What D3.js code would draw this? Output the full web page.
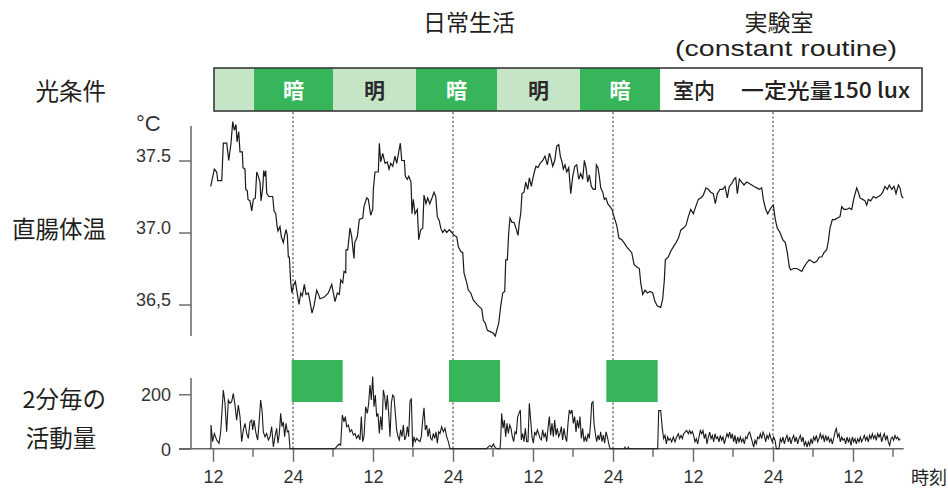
<!DOCTYPE html>
<html><head><meta charset="utf-8">
<script src="https://cdn.jsdelivr.net/npm/d3@7"></script>
<style>body{margin:0;background:#fff} svg{display:block}</style>
</head><body>
<svg id="c" width="948" height="488"></svg>
<script>
// ---------- DATA ----------
const xTickHours = [12,24,36,48,60,72,84,96,108];
const xTickLabels = ["12","24","12","24","12","24","12","24","12"];
const xMinorHours = [18,30,42,54,66,78,90,102,114];
const tempTicks = [36.5,37.0,37.5];
const tempTickLabels = ["36,5","37.0","37.5"];
const actTicks = [0,200];
const actTickLabels = ["0","200"];
const lightEdges = [12.15,18.15,30.0,42.45,54.6,67.05,79.05,118.35];
const lightStates = ["light","dark","light","dark","light","dark","room"];
const lightLabels = ["","暗","明","暗","明","暗",""];
const roomLabels = ["室内","一定光量150 lux"];
const sleepStart = [23.8,47.4,71.0];
const sleepEnd = [31.45,55.05,78.7];
const midnightHours = [24,48,72,96];
const axisEndHour = 115.6;

// rectal temperature [hour, °C]
const tempSeries = [[11.66,37.32],[12.20,37.44],[12.56,37.42],[12.71,37.36],[13.31,37.36],[13.55,37.62],[14.06,37.62],[14.36,37.50],[14.70,37.62],[14.96,37.77],[15.20,37.71],[15.45,37.75],[15.60,37.63],[15.86,37.70],[16.05,37.56],[16.40,37.56],[16.50,37.45],[16.80,37.44],[16.91,37.30],[17.15,37.29],[17.25,37.23],[17.55,37.22],[17.81,37.15],[18.05,37.23],[18.35,37.24],[18.56,37.42],[18.80,37.39],[19.05,37.35],[19.20,37.22],[19.46,37.31],[19.61,37.43],[19.76,37.39],[19.91,37.43],[20.06,37.27],[20.36,37.25],[20.96,37.25],[21.15,37.15],[21.41,37.13],[21.60,37.05],[21.75,37.01],[22.05,37.04],[22.25,36.97],[22.55,36.93],[22.76,36.98],[22.95,37.02],[23.15,36.98],[23.30,36.83],[23.45,36.83],[23.66,36.65],[23.85,36.58],[24.05,36.63],[24.35,36.66],[24.56,36.60],[24.90,36.50],[25.16,36.58],[25.40,36.56],[25.70,36.64],[25.95,36.57],[26.30,36.58],[26.55,36.52],[26.85,36.44],[27.15,36.49],[27.56,36.60],[27.90,36.56],[28.05,36.54],[28.65,36.55],[29.30,36.58],[29.81,36.64],[30.30,36.52],[30.65,36.58],[30.95,36.57],[31.16,36.67],[31.46,36.65],[31.65,36.73],[31.91,36.72],[31.95,36.88],[32.21,36.88],[32.55,37.03],[32.81,36.97],[32.96,36.90],[33.15,36.82],[33.26,36.93],[33.65,36.97],[33.95,37.09],[34.46,37.10],[34.65,37.18],[35.06,37.24],[35.30,37.23],[35.66,37.12],[35.96,37.16],[36.05,37.30],[36.30,37.42],[36.80,37.42],[36.95,37.62],[37.16,37.49],[37.46,37.55],[37.80,37.48],[38.15,37.49],[38.40,37.44],[38.66,37.48],[38.96,37.46],[39.30,37.53],[39.56,37.48],[39.90,37.57],[40.10,37.62],[40.31,37.50],[40.70,37.50],[40.85,37.39],[41.15,37.37],[41.36,37.39],[41.70,37.35],[41.85,37.13],[42.05,37.23],[42.30,37.13],[42.65,37.16],[42.86,36.95],[43.16,37.02],[43.46,37.03],[43.65,37.26],[43.95,37.20],[44.21,37.24],[44.51,37.20],[44.85,37.24],[45.15,37.28],[45.41,37.25],[45.65,37.11],[45.95,37.08],[46.16,37.03],[46.46,37.00],[46.76,37.02],[47.06,37.00],[47.45,37.02],[47.81,37.00],[48.15,36.98],[48.56,36.97],[48.80,36.90],[49.16,36.87],[49.46,36.86],[49.65,36.72],[50.06,36.65],[50.30,36.60],[50.66,36.58],[51.05,36.53],[51.45,36.51],[51.80,36.49],[52.31,36.47],[52.55,36.39],[52.85,36.37],[53.15,36.32],[53.66,36.31],[54.05,36.30],[54.35,36.28],[54.56,36.32],[54.86,36.37],[55.16,36.49],[55.46,36.58],[55.76,36.59],[55.91,36.81],[56.15,36.81],[56.36,37.00],[56.55,37.10],[56.85,37.07],[57.15,37.07],[57.45,37.03],[57.75,36.98],[57.95,37.07],[58.16,37.13],[58.35,37.27],[58.65,37.28],[58.91,37.35],[59.21,37.30],[59.45,37.38],[59.75,37.32],[59.96,37.37],[60.20,37.42],[60.45,37.46],[60.75,37.45],[61.05,37.48],[61.46,37.50],[61.80,37.53],[62.15,37.47],[62.45,37.55],[62.66,37.52],[62.96,37.46],[63.26,37.50],[63.56,37.60],[63.86,37.61],[64.10,37.53],[64.35,37.49],[64.55,37.44],[64.80,37.47],[65.06,37.42],[65.36,37.45],[65.66,37.27],[65.96,37.39],[66.26,37.46],[66.56,37.47],[66.86,37.37],[67.16,37.41],[67.46,37.37],[67.70,37.50],[67.95,37.45],[68.21,37.35],[68.45,37.40],[68.75,37.32],[69.05,37.30],[69.35,37.30],[69.50,37.47],[69.75,37.45],[69.95,37.39],[70.16,37.31],[70.46,37.28],[70.70,37.23],[70.95,37.24],[71.21,37.20],[71.55,37.18],[71.85,37.16],[72.15,37.11],[72.56,37.05],[72.90,36.96],[73.31,36.95],[73.65,36.93],[74.06,36.90],[74.45,36.88],[74.81,36.86],[75.15,36.78],[75.56,36.76],[75.95,36.75],[76.16,36.65],[76.46,36.57],[76.80,36.60],[77.15,36.58],[77.55,36.59],[77.96,36.58],[78.30,36.52],[78.65,36.49],[79.16,36.48],[79.46,36.54],[79.70,36.67],[79.85,36.81],[80.30,36.83],[80.66,36.87],[81.05,36.90],[81.45,36.93],[81.80,36.96],[82.20,37.02],[82.55,37.03],[82.95,37.05],[83.30,37.11],[83.66,37.16],[84.05,37.13],[84.41,37.18],[84.80,37.23],[85.16,37.24],[85.55,37.26],[85.95,37.31],[86.30,37.30],[86.66,37.28],[87.05,37.27],[87.35,37.20],[87.65,37.27],[88.05,37.30],[88.46,37.30],[88.80,37.32],[89.15,37.24],[89.45,37.32],[89.81,37.34],[90.15,37.37],[90.41,37.38],[90.65,37.27],[90.95,37.37],[91.31,37.35],[91.65,37.33],[92.06,37.35],[92.45,37.34],[92.81,37.33],[93.15,37.32],[93.56,37.31],[93.95,37.30],[94.31,37.31],[94.55,37.23],[94.91,37.16],[95.21,37.13],[95.55,37.16],[95.81,37.18],[96.05,37.19],[96.35,37.09],[96.65,37.03],[97.05,37.00],[97.46,36.95],[97.85,36.93],[98.15,36.86],[98.45,36.76],[98.66,36.74],[99.05,36.75],[99.56,36.75],[99.95,36.74],[100.31,36.73],[100.65,36.76],[101.06,36.79],[101.45,36.81],[101.81,36.80],[102.15,36.79],[102.56,36.80],[102.95,36.83],[103.31,36.83],[103.65,36.86],[104.06,36.88],[104.30,36.94],[104.55,37.03],[104.90,37.09],[105.30,37.09],[105.65,37.10],[106.05,37.11],[106.31,37.18],[106.65,37.16],[107.06,37.16],[107.45,37.17],[107.81,37.16],[108.15,37.24],[108.56,37.31],[108.80,37.28],[109.05,37.24],[109.46,37.23],[109.80,37.22],[110.06,37.19],[110.30,37.23],[110.66,37.22],[111.05,37.25],[111.45,37.24],[111.80,37.25],[112.16,37.26],[112.46,37.28],[112.80,37.32],[113.15,37.30],[113.45,37.33],[113.81,37.30],[114.15,37.32],[114.45,37.27],[114.80,37.33],[115.05,37.31],[115.31,37.25],[115.55,37.24]];

// activity counts per 2 min [hour, count]
const activitySeries = [[11.69,0],[11.70,87],[11.95,26],[12.20,56],[12.55,32],[12.90,20],[13.15,62],[13.55,216],[13.80,167],[14.05,62],[14.30,179],[14.55,167],[14.80,173],[15.05,203],[15.30,160],[15.55,105],[15.80,160],[16.05,118],[16.30,26],[16.55,69],[16.80,93],[17.05,56],[17.30,38],[17.55,99],[17.80,105],[17.95,69],[18.15,105],[18.45,56],[18.70,32],[18.90,93],[19.15,179],[19.35,142],[19.55,62],[19.80,44],[20.05,56],[20.30,32],[20.55,44],[20.80,81],[21.05,7],[21.30,44],[21.55,75],[21.75,20],[21.95,56],[22.15,130],[22.35,81],[22.55,99],[22.75,44],[22.95,93],[23.15,62],[23.35,65],[23.55,0],
[30.30,0],[30.65,10],[30.95,17],[31.15,13],[31.40,124],[31.65,99],[31.85,118],[32.05,81],[32.30,87],[32.55,62],[32.80,69],[33.05,50],[33.30,56],[33.55,38],[33.80,50],[34.05,32],[34.25,118],[34.45,26],[34.65,44],[34.90,154],[35.15,130],[35.35,167],[35.55,234],[35.75,179],[35.95,265],[36.15,154],[36.35,197],[36.55,118],[36.75,130],[36.95,56],[37.15,118],[37.35,69],[37.55,216],[37.75,191],[37.95,142],[38.15,197],[38.35,130],[38.55,44],[38.75,167],[38.95,197],[39.15,191],[39.35,130],[39.55,69],[39.75,44],[39.95,32],[40.15,69],[40.35,44],[40.55,87],[40.75,32],[40.95,44],[41.15,81],[41.35,44],[41.55,173],[41.75,185],[41.95,5],[42.15,44],[42.35,26],[42.55,38],[42.75,32],[43.05,26],[43.25,44],[43.45,105],[43.65,150],[43.85,69],[44.05,87],[44.25,44],[44.45,75],[44.65,38],[44.85,32],[45.05,56],[45.25,38],[45.45,62],[45.65,20],[45.85,62],[46.05,56],[46.30,81],[46.55,62],[46.80,75],[47.05,44],[47.30,26],[47.55,0],
[53.05,0],[53.30,7],[53.55,12],[53.80,5],[54.05,17],[54.30,5],[54.60,0],[55.05,0],[55.15,32],[55.30,130],[55.50,75],[55.70,105],[55.90,44],[56.10,93],[56.30,56],[56.50,87],[56.70,75],[56.90,44],[57.10,26],[57.30,62],[57.50,56],[57.70,118],[57.90,130],[58.10,142],[58.25,32],[58.45,56],[58.65,26],[58.85,75],[59.05,26],[59.25,26],[59.45,167],[59.65,105],[59.85,44],[60.05,20],[60.25,62],[60.45,50],[60.65,69],[60.85,56],[61.05,38],[61.25,32],[61.45,69],[61.65,44],[61.85,56],[62.05,26],[62.25,75],[62.45,118],[62.65,50],[62.85,93],[63.05,44],[63.25,105],[63.45,50],[63.65,75],[63.85,44],[64.05,56],[64.25,81],[64.45,32],[64.65,75],[64.85,44],[65.05,26],[65.25,93],[65.45,142],[65.65,130],[65.85,142],[66.05,93],[66.25,118],[66.45,62],[66.65,105],[66.85,75],[67.05,118],[67.25,38],[67.45,75],[67.65,26],[67.85,44],[68.05,26],[68.25,56],[68.45,38],[68.65,99],[68.80,167],[69.00,173],[69.15,93],[69.35,56],[69.55,26],[69.75,50],[69.95,32],[70.15,62],[70.35,26],[70.55,50],[70.75,20],[70.95,62],[71.15,44],[71.35,20],[71.55,0],
[73.75,0],[73.80,8],[73.85,0],[74.25,0],[74.30,8],[74.35,0],
[78.70,0],[78.85,140],[79.15,140],[79.40,74],[79.60,37],[79.80,49],[80.00,18],[80.20,43],[80.40,31],[80.60,37],[80.80,25],[81.05,43],[81.30,25],[81.55,43],[81.80,55],[82.00,37],[82.20,49],[82.40,37],[82.60,55],[82.80,61],[83.05,67],[83.30,55],[83.50,67],[83.70,55],[83.90,64],[84.10,49],[84.30,25],[84.50,37],[84.70,18],[84.90,43],[85.10,67],[85.30,55],[85.50,67],[85.70,37],[85.90,55],[86.10,18],[86.30,43],[86.50,61],[86.70,37],[86.90,49],[87.10,25],[87.30,55],[87.50,37],[87.70,43],[87.90,25],[88.10,49],[88.30,31],[88.50,43],[88.70,18],[88.90,37],[89.10,55],[89.30,43],[89.50,61],[89.70,37],[89.90,55],[90.10,25],[90.30,49],[90.50,18],[90.70,43],[90.90,25],[91.10,43],[91.30,25],[91.50,37],[91.70,18],[91.90,43],[92.10,37],[92.30,55],[92.50,61],[92.70,43],[92.90,25],[93.10,6],[93.30,31],[93.50,18],[93.70,43],[93.90,37],[94.10,55],[94.30,37],[94.50,61],[94.70,49],[94.90,25],[95.10,49],[95.30,37],[95.50,55],[95.70,37],[95.90,25],[96.10,43],[96.30,31],[96.50,0],[96.70,0],[96.90,0],[97.10,37],[97.30,25],[97.50,43],[97.70,18],[97.90,37],[98.10,49],[98.30,25],[98.50,43],[98.70,18],[98.90,37],[99.10,49],[99.30,25],[99.50,43],[99.70,18],[99.90,37],[100.10,49],[100.30,25],[100.50,43],[100.70,12],[100.90,25],[101.10,6],[101.30,25],[101.50,12],[101.70,37],[101.90,18],[102.10,43],[102.30,31],[102.50,49],[102.70,25],[102.90,37],[103.10,55],[103.30,37],[103.50,49],[103.70,25],[103.90,49],[104.10,31],[104.30,43],[104.50,25],[104.70,37],[104.90,18],[105.10,37],[105.30,61],[105.50,74],[105.70,43],[105.90,55],[106.10,25],[106.30,43],[106.50,31],[106.70,37],[106.90,18],[107.10,43],[107.30,25],[107.50,37],[107.70,12],[107.90,43],[108.10,25],[108.30,37],[108.50,18],[108.70,37],[108.90,25],[109.10,43],[109.30,25],[109.50,37],[109.70,49],[109.90,31],[110.10,43],[110.30,25],[110.50,49],[110.70,37],[110.90,55],[111.10,37],[111.30,49],[111.50,31],[111.70,55],[111.90,43],[112.10,55],[112.30,25],[112.50,43],[112.70,55],[112.90,31],[113.10,49],[113.30,25],[113.50,12],[113.70,37],[113.90,43],[114.10,31],[114.30,49],[114.50,37],[114.70,43],[114.90,31],[115.10,37]];

// ---------- LAYOUT ----------
const L = {bandTop:68, bandH:43, axisX:191, tickLen:12,
  tempAxisTop:126, tempAxisBottom:336, actAxisTop:378,
  sleepTop:360, sleepBottom:402, actLeft:179};
const jp = "'Noto Sans CJK JP','Noto Sans',sans-serif";
const num = "'Liberation Sans',Arial,sans-serif";
const ink = "#231f20";
const green = "#36b55a", pale = "#c6e5c7";

const svg = d3.select("#c");
const x = d3.scaleLinear().domain([12,108]).range([213,853]);
const yT = d3.scaleLinear().domain([36.5,37.5]).range([304.5,160.5]);
const yA = d3.scaleLinear().domain([0,200]).range([448.7,394.3]);

// ---------- titles ----------
svg.append("text").attr("x",469).attr("y",31).attr("text-anchor","middle")
  .attr("font-family",jp).attr("font-size",23).attr("fill",ink).text("日常生活");
svg.append("text").attr("x",779).attr("y",31).attr("text-anchor","middle")
  .attr("font-family",jp).attr("font-size",23).attr("fill",ink).text("実験室");
svg.append("text").attr("x",786).attr("y",56).attr("text-anchor","middle")
  .attr("font-family",num).attr("font-size",22).attr("fill",ink)
  .attr("textLength",222).attr("lengthAdjust","spacingAndGlyphs").text("(constant routine)");

// ---------- left labels ----------
const leftLabels = [
  {t:"光条件", x:106, y:100, a:"end"},
  {t:"直腸体温", x:106, y:238, a:"end"},
  {t:"2分毎の", x:106, y:408, a:"end"},
  {t:"活動量", x:61, y:447, a:"middle"}];
svg.append("g").selectAll("text").data(leftLabels).join("text")
  .attr("x",d=>d.x).attr("y",d=>d.y).attr("text-anchor",d=>d.a)
  .attr("font-family",jp).attr("font-size",23.5).attr("fill",ink).text(d=>d.t);

// ---------- light band ----------
const fillOf = {light:pale, dark:green, room:"#ffffff"};
const segs = lightStates.map((s,i)=>({s, h0:lightEdges[i], h1:lightEdges[i+1], label:lightLabels[i]}));
const band = svg.append("g");
band.selectAll("rect.seg").data(segs).join("rect").attr("class","seg")
  .attr("x",d=>x(d.h0)).attr("width",d=>x(d.h1)-x(d.h0))
  .attr("y",L.bandTop).attr("height",L.bandH).attr("fill",d=>fillOf[d.s]);
band.append("rect").attr("x",x(lightEdges[0])).attr("y",L.bandTop)
  .attr("width",x(lightEdges[lightEdges.length-1])-x(lightEdges[0])).attr("height",L.bandH)
  .attr("fill","none").attr("stroke","#3a3a3a").attr("stroke-width",1.6);
band.selectAll("text.lab").data(segs.filter(d=>d.label)).join("text").attr("class","lab")
  .attr("x",d=>(x(d.h0)+x(d.h1))/2).attr("y",L.bandTop+L.bandH/2+8)
  .attr("text-anchor","middle").attr("font-family",jp).attr("font-size",21).attr("font-weight",700)
  .attr("fill",d=>d.s==="dark"?"#ffffff":"#2a2a2a").text(d=>d.label);
const room = segs[segs.length-1];
const rc = (x(room.h0)+x(room.h1))/2;
band.append("text").attr("x",rc-118).attr("y",L.bandTop+L.bandH/2+8)
  .attr("font-family",jp).attr("font-size",21).attr("font-weight",500).attr("fill",ink).text(roomLabels[0]);
band.append("text").attr("x",rc-50).attr("y",L.bandTop+L.bandH/2+8)
  .attr("font-family",jp).attr("font-size",21).attr("font-weight",500).attr("fill",ink)
  .attr("textLength",169).attr("lengthAdjust","spacingAndGlyphs").text(roomLabels[1]);

// ---------- midnight dashed lines ----------
svg.append("g").selectAll("line").data(midnightHours).join("line")
  .attr("x1",d=>x(d)).attr("x2",d=>x(d)).attr("y1",L.bandTop+L.bandH+1).attr("y2",yA(0))
  .attr("stroke","#333").attr("stroke-width",1).attr("stroke-dasharray","2.2,2.2");

// ---------- sleep boxes ----------
svg.append("g").selectAll("rect").data(sleepStart.map((s,i)=>[s,sleepEnd[i]])).join("rect")
  .attr("x",d=>x(d[0])).attr("width",d=>x(d[1])-x(d[0]))
  .attr("y",L.sleepTop).attr("height",L.sleepBottom-L.sleepTop).attr("fill",green);

// ---------- temperature axis ----------
const axisColor = "#666";
const gT = svg.append("g").attr("transform",`translate(${L.axisX},0)`)
  .call(d3.axisLeft(yT).tickValues(tempTicks).tickSize(L.tickLen).tickPadding(8)
    .tickFormat((d,i)=>tempTickLabels[i]));
gT.select(".domain").remove();
gT.selectAll(".tick line").attr("stroke",axisColor).attr("stroke-width",1.4);
gT.selectAll(".tick text").attr("dy","0.05em").attr("font-family",num).attr("font-size",18).attr("fill","#333");
gT.append("line").attr("x1",0).attr("x2",0).attr("y1",L.tempAxisTop).attr("y2",L.tempAxisBottom)
  .attr("stroke",axisColor).attr("stroke-width",1.5);
svg.append("text").attr("x",136).attr("y",131).attr("font-family",num).attr("font-size",22).attr("fill","#333").text("°C");

// ---------- activity axis ----------
const gA = svg.append("g").attr("transform",`translate(${L.axisX},0)`)
  .call(d3.axisLeft(yA).tickValues(actTicks).tickSize(L.tickLen).tickPadding(8)
    .tickFormat((d,i)=>actTickLabels[i]));
gA.select(".domain").remove();
gA.selectAll(".tick line").attr("stroke",axisColor).attr("stroke-width",1.4);
gA.selectAll(".tick text").attr("dy","0.36em").attr("font-family",num).attr("font-size",18).attr("fill","#333");
gA.append("line").attr("x1",0).attr("x2",0).attr("y1",L.actAxisTop).attr("y2",yA(0))
  .attr("stroke",axisColor).attr("stroke-width",1.5);

// ---------- x axis ----------
const gX = svg.append("g").attr("transform",`translate(0,${yA(0)})`)
  .call(d3.axisBottom(x).tickValues(xTickHours).tickSize(13).tickPadding(8)
    .tickFormat((d,i)=>xTickLabels[i]));
gX.select(".domain").remove();
gX.selectAll(".tick line").attr("stroke",axisColor).attr("stroke-width",1.4);
gX.selectAll(".tick text").attr("y",34).attr("dy","0").attr("font-family",num).attr("font-size",18).attr("fill","#333");
gX.selectAll("line.minor").data(xMinorHours).join("line").attr("class","minor")
  .attr("x1",d=>x(d)).attr("x2",d=>x(d)).attr("y1",0).attr("y2",8)
  .attr("stroke",axisColor).attr("stroke-width",1.4);
svg.append("text").attr("x",911).attr("y",484).attr("font-family",jp).attr("font-size",18).attr("fill",ink).text("時刻");

// ---------- data lines ----------
const lineT = d3.line().x(d=>x(d[0])).y(d=>yT(d[1]));
svg.append("path").datum(tempSeries).attr("d",lineT).attr("fill","none")
  .attr("stroke","#1a1a1a").attr("stroke-width",1.2).attr("stroke-linejoin","miter");

svg.append("line").attr("x1",L.actLeft).attr("x2",x(axisEndHour)).attr("y1",yA(0)).attr("y2",yA(0))
  .attr("stroke",axisColor).attr("stroke-width",1.5);
const lineA = d3.line().x(d=>x(d[0])).y(d=>yA(d[1]));
svg.append("path").datum(activitySeries).attr("d",lineA).attr("fill","none")
  .attr("stroke","#1a1a1a").attr("stroke-width",1.1);
</script>
</body></html>
